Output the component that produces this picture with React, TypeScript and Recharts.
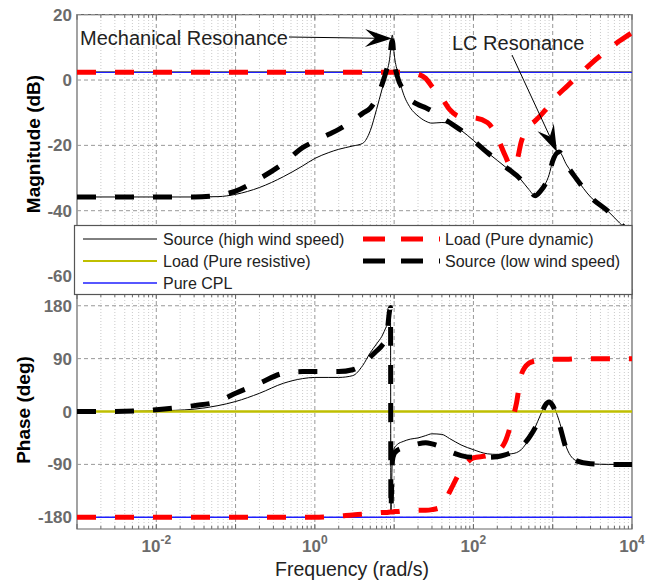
import React from 'react';
import { LineChart, Line, XAxis, YAxis, ReferenceLine, ReferenceArea } from 'recharts';

const FONT = '"Liberation Sans", Arial, Helvetica, sans-serif';
const OLIVE = '#bfbf00';
const BLUE = '#1f1fff';
const RED = '#ff0000';
const FRAME = '#666666';
const TICK_TEXT = '#6b6b6b';

// frequency grid (rad/s) shared by the three source/dynamic curves
const freq = [
  0.001, 0.003, 0.01, 0.03, 0.06, 0.1, 0.2, 0.4, 0.7, 1, 1.5, 2, 3, 4, 5, 6, 7, 8, 9, 9.1, 9.5,
  10, 11, 13, 16, 20, 25, 30, 40, 50, 70, 100, 150, 200, 250, 300, 350, 400, 500, 600, 700,
  800, 900, 1000, 1200, 1500, 2000, 3000, 5000, 7000, 10000,
];

// magnitude (dB)
const srcHighMag = [
  -35.8, -35.8, -35.8, -35.8, -35.7, -35.0, -32.9, -29.6, -26.3, -24.0, -22.2, -21.2, -20.2, -19.4, -15.5, -9.0, -3.0, 2.0, 9.0, 10.5, 13.8,
  8.0, 2.5, -4.0, -8.5, -11.0, -12.6, -13.2, -13.0, -13.3, -15.4, -18.5, -22.2, -24.6, -26.5, -27.9, -29.2, -30.6, -33.5, -35.4, -34.0,
  -32.0, -29.0, -24.8, -22.0, -26.0, -30.3, -35.8, -40.2, -43.8, -47.5,
];
const srcLowMag = [
  -35.8, -35.8, -35.8, -35.8, -35.3, -34.0, -30.2, -25.5, -20.7, -18.7, -16.6, -15.1, -12.4, -10.2, -8.6, -5.5, -1.5, 3.0, 8.5, 9.8, 12.0,
  6.0, 1.0, -3.0, -6.0, -7.5, -8.5, -9.5, -11.5, -13.0, -15.4, -18.5, -22.2, -24.6, -26.5, -27.9, -29.2, -30.6, -33.5, -35.4, -34.0,
  -32.0, -29.0, -24.8, -22.0, -26.0, -30.3, -35.8, -40.2, -43.8, -47.5,
];
const dynMag = [
  2.4, 2.4, 2.4, 2.4, 2.4, 2.4, 2.4, 2.4, 2.4, 2.4, 2.4, 2.4, 2.4, 2.4, 2.4, 2.4, 2.4, 2.4, 2.4, 2.4, 2.4,
  2.4, 2.4, 2.4, 2.3, 1.8, 0.5, -2.0, -5.5, -9.0, -11.3, -11.5, -13.0, -17.5, -23.0, -26.5, -25.0, -19.0, -14.2, -12.5, -10.9,
  -9.3, -7.8, -6.1, -4.2, -2.0, 0.9, 4.9, 9.3, 12.0, 14.5,
];

// phase (deg)
const srcHighPhase = [
  0, 0, 1, 4, 10, 17, 31, 48, 56, 58, 58, 58, 61, 78, 100, 115, 128, 145, 160, -172, -78,
  -63, -56, -51, -47, -45, -41, -38, -39, -46, -57, -65, -72, -73, -73, -72, -70, -65, -47, -27, -6,
  10, 15, 11, -15, -62, -84, -89, -90, -90, -90,
];
const srcLowPhase = [
  0, 0, 3, 10, 17, 31, 48, 65, 68, 68, 68, 68, 71, 80, 93, 103, 112, 128, 177, -168, -85,
  -72, -66, -62, -59, -55, -53, -55, -61, -68, -75, -78, -78, -77, -74, -70, -66, -60, -45, -28, -8,
  10, 16, 10, -20, -65, -84, -89, -90, -90, -90,
];
const dynPhase = [
  -180, -180, -180, -180, -180, -180, -180, -180, -180, -180, -179, -178, -176, -175, -174, -173, -172, -172, -171, -171, -171,
  -170, -170, -169, -169, -168, -168, -167, -162, -137, -100, -79, -75, -68, -52, -20, 15, 62, 82, 86, 87,
  88, 88, 89, 89, 89, 90, 90, 90, 90, 90,
];

// flat reference loads
const flatFreq = [0.001, 10000];
const resistiveMag = [2.55, 2.55];
const resistivePhase = [0, 0];
const cplMag = [2.4, 2.4];
const cplPhase = [-180, -180];

const magTicks = [20, 0, -20, -40, -60];
const phaseTicks = [180, 90, 0, -90, -180];
const freqTicks = [0.01, 1, 100, 10000];
const MAG_DOMAIN = [-65.5, 20];
const PHASE_DOMAIN = [-200, 200];
const F_DOMAIN = [0.001, 10000];

const magData = freq.map((f, i) => ({ f, high: srcHighMag[i], low: srcLowMag[i], dyn: dynMag[i] }));
const phaseData = freq.map((f, i) => ({ f, high: srcHighPhase[i], low: srcLowPhase[i], dyn: dynPhase[i] }));
const resMagData = flatFreq.map((f, i) => ({ f, v: resistiveMag[i] }));
const resPhaseData = flatFreq.map((f, i) => ({ f, v: resistivePhase[i] }));
const cplMagData = flatFreq.map((f, i) => ({ f, v: cplMag[i] }));
const cplPhaseData = flatFreq.map((f, i) => ({ f, v: cplPhase[i] }));

const majorX = [0.01, 0.1, 1, 10, 100, 1000];
const minorX: number[] = [];
const allX: number[] = [];
for (let k = -3; k < 4; k++) {
  for (let m = 1; m < 10; m++) {
    const v = +(m * Math.pow(10, k)).toPrecision(3);
    allX.push(v);
    if (m > 1) minorX.push(v);
  }
}
allX.push(10000);

function gridLines(prefix: string, yMajor: number[], yLo: number, yHi: number, pxPerUnit: number) {
  const out: React.ReactNode[] = [];
  minorX.forEach((f) =>
    out.push(<ReferenceLine key={prefix + 'm' + f} x={f} stroke="#c4c4c4" strokeDasharray="1 2" strokeWidth={0.9} />)
  );
  majorX.forEach((f) =>
    out.push(<ReferenceLine key={prefix + 'M' + f} x={f} stroke="#999999" strokeDasharray="4 3" strokeWidth={1} />)
  );
  yMajor.forEach((v) =>
    out.push(<ReferenceLine key={prefix + 'h' + v} y={v} stroke="#999999" strokeDasharray="4 3" strokeWidth={1} />)
  );
  // small inward ticks on the top and bottom edges
  allX.forEach((f) => {
    const isMajor = Math.abs(Math.log10(f) - Math.round(Math.log10(f))) < 1e-6;
    const len = (isMajor ? 5 : 3) / pxPerUnit;
    out.push(
      <ReferenceLine key={prefix + 'tb' + f} segment={[{ x: f, y: yLo }, { x: f, y: yLo + len }]} stroke={FRAME} strokeWidth={1} />
    );
    out.push(
      <ReferenceLine key={prefix + 'tt' + f} segment={[{ x: f, y: yHi }, { x: f, y: yHi - len }]} stroke={FRAME} strokeWidth={1} />
    );
  });
  return out;
}

const FreqTick = (props: any) => {
  const { x, y, payload } = props;
  const e = Math.round(Math.log10(payload.value));
  return (
    <text x={x} y={y + 23} textAnchor="middle" fill={TICK_TEXT} fontSize={17} fontWeight="bold" fontFamily={FONT}>
      <tspan>10</tspan>
      <tspan dy={-8} fontSize={12}>{e}</tspan>
    </text>
  );
};

const yTickStyle = { fill: TICK_TEXT, fontSize: 17, fontWeight: 'bold', fontFamily: FONT };

const Arrow = ({ x1, y1, x2, y2 }: { x1: number; y1: number; x2: number; y2: number }) => {
  const a = Math.atan2(y2 - y1, x2 - x1);
  const L = 27;
  const W = 9;
  const N = 17;
  const pt = (d: number, w: number) => [x2 - d * Math.cos(a) - w * Math.sin(a), y2 - d * Math.sin(a) + w * Math.cos(a)];
  const pts = [pt(0, 0), pt(L, W), pt(N, 0), pt(L, -W)].map((p) => p.join(',')).join(' ');
  const back = pt(N, 0);
  return (
    <g>
      <line x1={x1} y1={y1} x2={back[0]} y2={back[1]} stroke="#000" strokeWidth={1} />
      <polygon points={pts} fill="#000" />
    </g>
  );
};

const legendLeft = [
  { label: 'Source (high wind speed)', color: '#000', width: 1, dash: undefined as string | undefined },
  { label: 'Load (Pure resistive)', color: OLIVE, width: 2.2, dash: undefined },
  { label: 'Pure CPL', color: BLUE, width: 1.3, dash: undefined },
];
const legendRight = [
  { label: 'Load (Pure dynamic)', color: RED, width: 5, dash: '22 16' },
  { label: 'Source (low wind speed)', color: '#000', width: 5, dash: '22 16' },
];
const legendRows = [239, 261, 283];

export default function App() {
  return (
    <div style={{ position: 'absolute', left: 0, top: 0, width: 660, height: 582, background: '#fff', fontFamily: FONT, overflow: 'hidden' }}>
      {/* magnitude panel */}
      <div style={{ position: 'absolute', left: 0, top: 0 }}>
        <LineChart width={660} height={300} data={magData} margin={{ top: 14.7, right: 28, bottom: 6, left: 0 }}>
          <XAxis dataKey="f" type="number" scale="log" domain={F_DOMAIN} allowDataOverflow ticks={freqTicks} hide />
          <YAxis
            type="number"
            domain={MAG_DOMAIN}
            allowDataOverflow
            ticks={magTicks}
            interval={0}
            width={77}
            tickLine={false}
            axisLine={false}
            tickSize={0}
            tickMargin={5}
            tick={yTickStyle}
          />
          {gridLines('mag', magTicks, MAG_DOMAIN[0], MAG_DOMAIN[1], 279.3 / 85.5)}
          <ReferenceArea x1={F_DOMAIN[0]} x2={F_DOMAIN[1]} y1={MAG_DOMAIN[0]} y2={MAG_DOMAIN[1]} fill="none" fillOpacity={0} stroke={FRAME} strokeWidth={1.2} />
          <Line dataKey="high" type="monotone" stroke="#000" strokeWidth={1} dot={false} activeDot={false} isAnimationActive={false} />
          <Line data={resMagData} dataKey="v" type="linear" stroke={OLIVE} strokeWidth={1.6} dot={false} activeDot={false} isAnimationActive={false} />
          <Line data={cplMagData} dataKey="v" type="linear" stroke={BLUE} strokeWidth={1.4} dot={false} activeDot={false} isAnimationActive={false} />
          <Line dataKey="dyn" type="monotone" stroke={RED} strokeWidth={5} strokeDasharray="19 19" dot={false} activeDot={false} isAnimationActive={false} />
          <Line dataKey="low" type="monotone" stroke="#000" strokeWidth={5} strokeDasharray="19 19" dot={false} activeDot={false} isAnimationActive={false} />
        </LineChart>
      </div>

      {/* phase panel */}
      <div style={{ position: 'absolute', left: 0, top: 280 }}>
        <LineChart width={660} height={302} data={phaseData} margin={{ top: 14, right: 28, bottom: 0, left: 0 }}>
          <XAxis
            dataKey="f"
            type="number"
            scale="log"
            domain={F_DOMAIN}
            allowDataOverflow
            ticks={freqTicks}
            interval={0}
            height={53}
            tickLine={false}
            axisLine={false}
            tickSize={0}
            tickMargin={0}
            tick={<FreqTick />}
          />
          <YAxis
            type="number"
            domain={PHASE_DOMAIN}
            allowDataOverflow
            ticks={phaseTicks}
            interval={0}
            width={77}
            tickLine={false}
            axisLine={false}
            tickSize={0}
            tickMargin={5}
            tick={yTickStyle}
          />
          {gridLines('ph', phaseTicks, PHASE_DOMAIN[0], PHASE_DOMAIN[1], 235 / 400)}
          <ReferenceArea x1={F_DOMAIN[0]} x2={F_DOMAIN[1]} y1={PHASE_DOMAIN[0]} y2={PHASE_DOMAIN[1]} fill="none" fillOpacity={0} stroke={FRAME} strokeWidth={1.2} />
          <Line dataKey="high" type="monotone" stroke="#000" strokeWidth={1} dot={false} activeDot={false} isAnimationActive={false} />
          <Line data={resPhaseData} dataKey="v" type="linear" stroke={OLIVE} strokeWidth={2.5} dot={false} activeDot={false} isAnimationActive={false} />
          <Line data={cplPhaseData} dataKey="v" type="linear" stroke={BLUE} strokeWidth={1.3} dot={false} activeDot={false} isAnimationActive={false} />
          <Line dataKey="dyn" type="monotone" stroke={RED} strokeWidth={5} strokeDasharray="19 19" dot={false} activeDot={false} isAnimationActive={false} />
          <Line dataKey="low" type="monotone" stroke="#000" strokeWidth={5} strokeDasharray="19 19" dot={false} activeDot={false} isAnimationActive={false} />
        </LineChart>
      </div>

      {/* titles, annotations and legend */}
      <svg width={660} height={582} style={{ position: 'absolute', left: 0, top: 0, pointerEvents: 'none' }} fontFamily={FONT}>
        <text transform="translate(40,144) rotate(-90)" textAnchor="middle" fontSize={19} fontWeight="bold" fill="#000">
          Magnitude (dB)
        </text>
        <text transform="translate(30,410) rotate(-90)" textAnchor="middle" fontSize={19} fontWeight="bold" fill="#000">
          Phase (deg)
        </text>
        <text x={352} y={576} textAnchor="middle" fontSize={19.5} fill="#222">
          Frequency  (rad/s)
        </text>

        <text x={80} y={45} fontSize={20} fill="#222">Mechanical Resonance</text>
        <Arrow x1={289} y1={37} x2={392} y2={38.5} />
        <text x={452} y={50} fontSize={20} fill="#222">LC Resonance</text>
        <Arrow x1={512} y1={55} x2={557} y2={152} />

        <rect x={74.5} y={225.5} width={557.5} height={69} fill="#fff" stroke="#555" strokeWidth={1.2} />
        {legendLeft.map((it, i) => (
          <g key={it.label}>
            <line x1={83} x2={157} y1={legendRows[i]} y2={legendRows[i]} stroke={it.color} strokeWidth={it.width} strokeDasharray={it.dash} />
            <text x={163} y={legendRows[i] + 6} fontSize={16} fill="#222">{it.label}</text>
          </g>
        ))}
        {legendRight.map((it, i) => (
          <g key={it.label}>
            <line x1={363} x2={440} y1={legendRows[i]} y2={legendRows[i]} stroke={it.color} strokeWidth={it.width} strokeDasharray={it.dash} />
            <text x={445} y={legendRows[i] + 6} fontSize={16} fill="#222">{it.label}</text>
          </g>
        ))}
      </svg>
    </div>
  );
}
